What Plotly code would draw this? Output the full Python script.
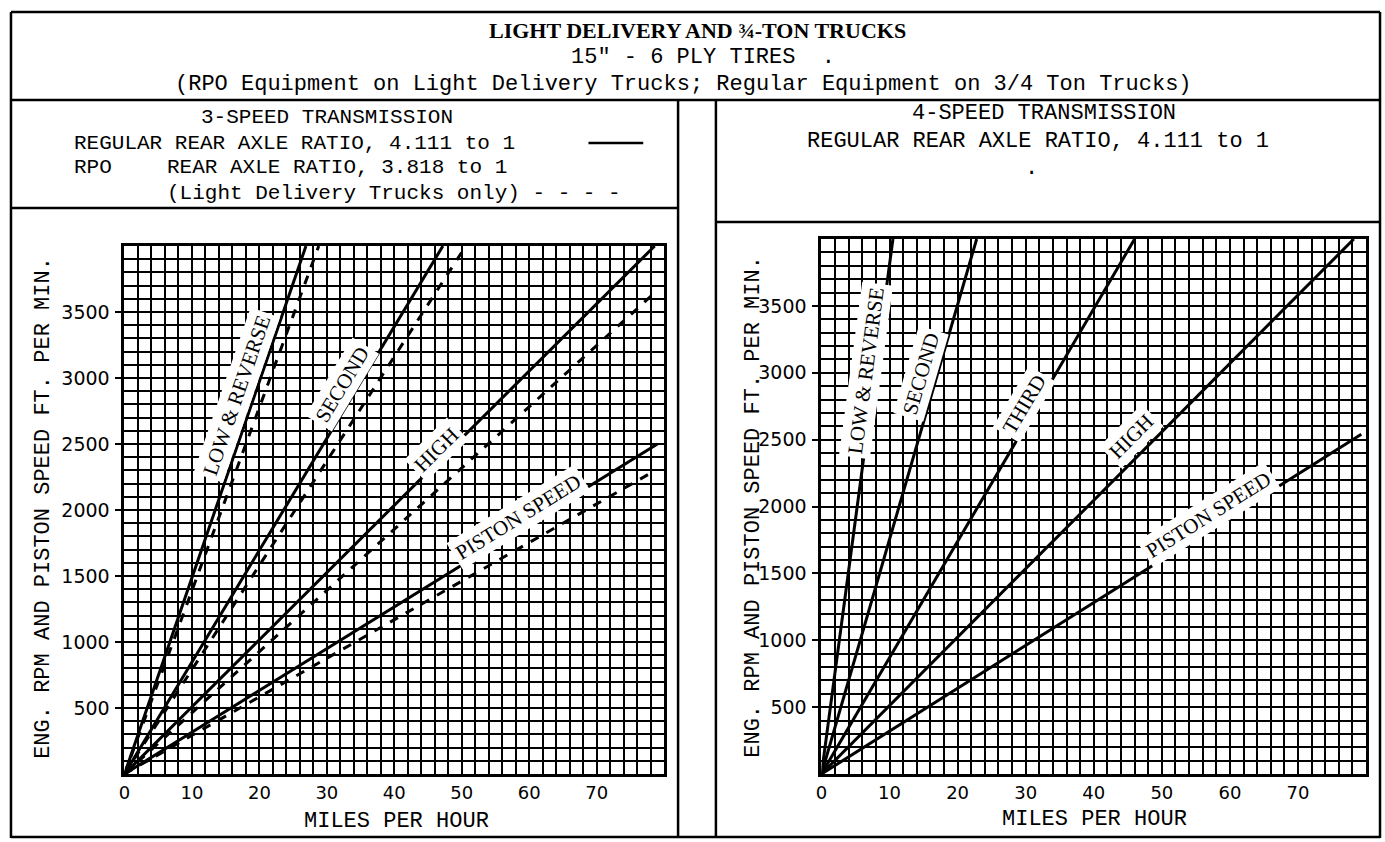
import math
import plotly.graph_objects as go

# ---------------- data ----------------
x_ticks = [0, 10, 20, 30, 40, 50, 60, 70]
y_ticks = [500, 1000, 1500, 2000, 2500, 3000, 3500]

# 3-speed transmission (left panel): lines run from the origin to these end points
left_gears = ["LOW & REVERSE", "SECOND", "HIGH", "PISTON SPEED"]
left_regular_end_mph = [26.9, 47.2, 78.6, 79.0]      # regular 4.111 axle (solid)
left_regular_end_rpm = [4000, 4000, 4000, 2500]
left_rpo_end_mph = [28.8, 50.6, 78.7, 78.7]          # RPO 3.818 axle (dashed)
left_rpo_end_rpm = [4000, 4000, 3650, 2300]

# 4-speed transmission (right panel)
right_gears = ["LOW & REVERSE", "SECOND", "THIRD", "HIGH", "PISTON SPEED"]
right_end_mph = [10.5, 22.8, 46.0, 78.2, 79.3]
right_end_rpm = [4000, 4000, 4000, 4000, 2540]

# label anchor points (data units) for the gear labels
left_label_mph = [16.6, 32.2, 46.2, 58.4]
left_label_rpm = [2875, 2950, 2456, 1947]
right_label_mph = [6.5, 14.6, 29.8, 45.6, 56.8]
right_label_rpm = [3015, 2992, 2767, 2526, 1940]

# ---------------- layout geometry ----------------
W, H = 1385, 842
X_MAX, Y_MAX = 80, 4000
L_AREA = (119, 661, 246, 774)   # left, right, top, bottom (px)
R_AREA = (819, 1366, 239, 774)


def fx(p):
    return p / W


def fy(p):
    return 1 - p / H


MONO = "Liberation Mono"
SERIF = "Liberation Serif"
TICKF = "DejaVu Sans"

fig = go.Figure()

for i, g in enumerate(left_gears):
    fig.add_trace(go.Scatter(x=[0, left_regular_end_mph[i]], y=[0, left_regular_end_rpm[i]],
                             mode="lines", line=dict(color="black", width=3),
                             xaxis="x", yaxis="y", showlegend=False, hoverinfo="skip"))
    fig.add_trace(go.Scatter(x=[0, left_rpo_end_mph[i]], y=[0, left_rpo_end_rpm[i]],
                             mode="lines", line=dict(color="black", width=3, dash="dash"),
                             xaxis="x", yaxis="y", showlegend=False, hoverinfo="skip"))

for i, g in enumerate(right_gears):
    fig.add_trace(go.Scatter(x=[0, right_end_mph[i]], y=[0, right_end_rpm[i]],
                             mode="lines", line=dict(color="black", width=3),
                             xaxis="x2", yaxis="y2", showlegend=False, hoverinfo="skip"))


def xaxis_cfg(area):
    return dict(domain=[fx(area[0]), fx(area[1])], range=[0, X_MAX],
                tickmode="array", tickvals=x_ticks, ticktext=[str(v) for v in x_ticks],
                showgrid=True, gridcolor="black", gridwidth=2,
                minor=dict(tickmode="linear", tick0=0, dtick=2, showgrid=True,
                           gridcolor="black", gridwidth=2),
                showline=True, linecolor="black", linewidth=3, mirror=True,
                zeroline=False, ticks="", ticklabelstandoff=0,
                tickfont=dict(family=TICKF, size=18, color="black"),
                fixedrange=True)


def yaxis_cfg(area):
    return dict(domain=[fy(area[3]), fy(area[2])], range=[0, Y_MAX],
                tickmode="array", tickvals=y_ticks, ticktext=[str(v) for v in y_ticks],
                showgrid=True, gridcolor="black", gridwidth=2,
                minor=dict(tickmode="linear", tick0=0, dtick=100, showgrid=True,
                           gridcolor="black", gridwidth=2),
                showline=True, linecolor="black", linewidth=3, mirror=True,
                zeroline=False, ticks="outside", ticklen=6, tickcolor="black",
                tickwidth=2, ticklabelstandoff=2,
                tickfont=dict(family=TICKF, size=19, color="black"),
                fixedrange=True)


ann = []


def text(x, y, s, size=22, family=MONO, anchor="center", bold=False, angle=0):
    ann.append(dict(x=fx(x), y=fy(y), xref="paper", yref="paper", text=s,
                    showarrow=False, xanchor=anchor, yanchor="middle", textangle=angle,
                    font=dict(family=family, size=size, color="black",
                              weight="bold" if bold else "normal")))


# header
text(695, 30, "LIGHT DELIVERY AND ¾-TON TRUCKS", size=22, family=SERIF, bold=True)
text(700, 57, '15" - 6 PLY TIRES  .', size=22)
text(680, 84, "(RPO Equipment on Light Delivery Trucks; Regular Equipment on 3/4 Ton Trucks)", size=22)
# left panel header
text(322, 117, "3-SPEED TRANSMISSION", size=21)
text(66, 143, "REGULAR REAR AXLE RATIO, 4.111 to 1", size=21, anchor="left")
text(66, 167, "RPO", size=21, anchor="left")
text(160, 167, "REAR AXLE RATIO, 3.818 to 1", size=21, anchor="left")
text(160, 193, "(Light Delivery Trucks only) - - - -", size=21, anchor="left")
# right panel header
text(1043, 113, "4-SPEED TRANSMISSION", size=22)
text(1036, 141, "REGULAR REAR AXLE RATIO, 4.111 to 1", size=22)
text(1030, 168, ".", size=22)
# axis titles
ytitle = "ENG. RPM AND PISTON SPEED FT. PER MIN."
text(37, 508, ytitle, size=22, angle=-90)
text(750, 507, ytitle, size=22, angle=-90)
text(392, 821, "MILES PER HOUR", size=22)
text(1093, 819, "MILES PER HOUR", size=22)


def gear_labels(names, lx, ly, ex, ey, area, xref, yref):
    wpx = area[1] - area[0]
    hpx = area[3] - area[2]
    for n, x, y, mx, my in zip(names, lx, ly, ex, ey):
        ang = math.degrees(math.atan2(my / Y_MAX * hpx, mx / X_MAX * wpx))
        ann.append(dict(x=x, y=y, xref=xref, yref=yref, text=n, showarrow=False,
                        textangle=-ang, bgcolor="white", borderpad=3,
                        xanchor="center", yanchor="middle",
                        font=dict(family=SERIF, size=21, color="black")))


gear_labels(left_gears, left_label_mph, left_label_rpm,
            left_regular_end_mph, left_regular_end_rpm, L_AREA, "x", "y")
gear_labels(right_gears, right_label_mph, right_label_rpm,
            right_end_mph, right_end_rpm, R_AREA, "x2", "y2")

# frame lines
shapes = []


def seg(x0, y0, x1, y1, w=2.5):
    shapes.append(dict(type="line", xref="paper", yref="paper",
                       x0=fx(x0), y0=fy(y0), x1=fx(x1), y1=fy(y1),
                       line=dict(color="black", width=w)))


seg(5, 12, 1380, 12)
seg(5, 12, 5, 838)
seg(1380, 12, 1380, 838)
seg(5, 837, 1380, 837)
seg(5, 100, 1380, 100)
seg(675, 100, 675, 838)
seg(713, 100, 713, 838)
seg(5, 208, 675, 208)
seg(713, 222, 1380, 222)
# legend sample for the solid line
seg(585, 143, 640, 143, w=2.5)

fig.update_layout(
    width=W, height=H,
    margin=dict(l=0, r=0, t=0, b=0),
    paper_bgcolor="white", plot_bgcolor="white",
    xaxis=dict(xaxis_cfg(L_AREA), anchor="y"),
    yaxis=dict(yaxis_cfg(L_AREA), anchor="x"),
    xaxis2=dict(xaxis_cfg(R_AREA), anchor="y2"),
    yaxis2=dict(yaxis_cfg(R_AREA), anchor="x2"),
    annotations=ann, shapes=shapes, showlegend=False,
)

fig.write_html("out.html", config={"displayModeBar": False},
               post_script="document.body.style.margin='0';document.body.style.overflow='hidden';")
